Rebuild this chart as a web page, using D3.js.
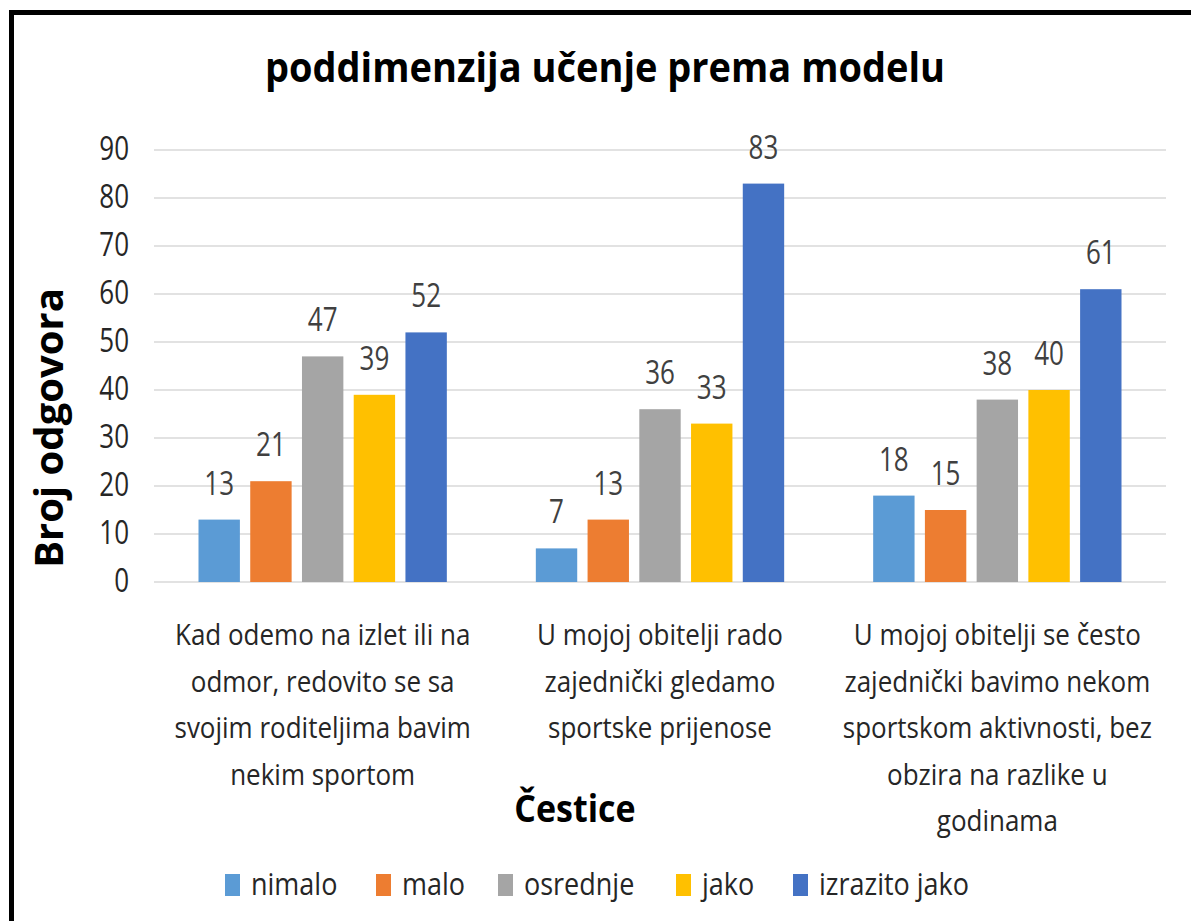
<!DOCTYPE html>
<html>
<head>
<meta charset="utf-8">
<script src="https://cdn.jsdelivr.net/npm/d3@7"></script>
<style>
  html, body { margin: 0; padding: 0; background: #fff; }
  svg { display: block; }
  text { font-family: "Open Sans", sans-serif; }
</style>
</head>
<body>
<svg id="chart" width="1191" height="921"></svg>
<script>
// ── Data ──────────────────────────────────────────────────────────────────────
const categories = [
  ["Kad odemo na izlet ili na", "odmor, redovito se sa", "svojim roditeljima bavim", "nekim sportom"],
  ["U mojoj obitelji rado", "zajednički gledamo", "sportske prijenose"],
  ["U mojoj obitelji se često", "zajednički bavimo nekom", "sportskom aktivnosti, bez", "obzira na razlike u", "godinama"],
];
const seriesNames = ["nimalo", "malo", "osrednje", "jako", "izrazito jako"];
const seriesColors = ["#5B9BD5", "#ED7D31", "#A5A5A5", "#FFC000", "#4472C4"];
const values = [
  [13, 21, 47, 39, 52],   // item 1
  [7, 13, 36, 33, 83],    // item 2
  [18, 15, 38, 40, 61],   // item 3
];
const yTicks = [0, 10, 20, 30, 40, 50, 60, 70, 80, 90];

const svg = d3.select("#chart");
const W = 1191, H = 921;
const plot = { left: 154, right: 1166, top: 150, bottom: 582 };

// the reference font is tall and narrow, so stretch glyphs vertically
const NUM_SY = 1.25, LBL_SY = 1.15;
const at = (x, y, sy) => `translate(${x},${y}) scale(1,${sy})`;

// frame (black edge at top and left)
svg.append("path")
  .attr("d", `M11.5,${H} V12.5 H${W}`)
  .attr("fill", "none")
  .attr("stroke", "#000")
  .attr("stroke-width", 5);

// ── Scales ────────────────────────────────────────────────────────────────────
const catIdx = d3.range(categories.length);
const x0 = d3.scaleBand().domain(catIdx).range([plot.left, plot.right]);
const groupPad = 44.5;
const x1 = d3.scaleBand().domain(d3.range(seriesNames.length))
  .range([groupPad, x0.bandwidth() - groupPad])
  .paddingInner(0.2);
const y = d3.scaleLinear().domain([0, 90]).range([plot.bottom, plot.top]);

// gridlines
svg.append("g")
  .selectAll("line")
  .data(yTicks)
  .join("line")
  .attr("x1", plot.left).attr("x2", plot.right)
  .attr("y1", d => y(d)).attr("y2", d => y(d))
  .attr("stroke", "#d9d9d9")
  .attr("stroke-width", 1.5);

// y tick labels
svg.append("g")
  .selectAll("text")
  .data(yTicks)
  .join("text")
  .attr("transform", d => at(129, y(d) + 10, NUM_SY))
  .attr("text-anchor", "end")
  .attr("font-size", 26)
  .attr("fill", "#262626")
  .text(d => d);

// bars
const groups = svg.append("g")
  .selectAll("g")
  .data(values)
  .join("g")
  .attr("transform", (_, i) => `translate(${x0(i)},0)`);

groups.selectAll("rect")
  .data(d => d)
  .join("rect")
  .attr("x", (_, j) => x1(j))
  .attr("y", v => y(v))
  .attr("width", x1.bandwidth())
  .attr("height", v => y(0) - y(v))
  .attr("fill", (_, j) => seriesColors[j]);

groups.selectAll("text")
  .data(d => d)
  .join("text")
  .attr("transform", (v, j) => at(x1(j) + x1.bandwidth() / 2, y(v) - 25, NUM_SY))
  .attr("text-anchor", "middle")
  .attr("font-size", 26)
  .attr("fill", "#404040")
  .text(v => v);

// category labels
const catLines = categories.flatMap((lines, i) =>
  lines.map((t, k) => ({ t, i, k })));
svg.append("g")
  .selectAll("text")
  .data(catLines)
  .join("text")
  .attr("transform", d => at(x0(d.i) + x0.bandwidth() / 2, 645 + d.k * 46.5, LBL_SY))
  .attr("text-anchor", "middle")
  .attr("font-size", 26)
  .attr("fill", "#262626")
  .text(d => d.t);

// title
svg.append("text")
  .attr("transform", at(605, 82, 1.1))
  .attr("text-anchor", "middle")
  .attr("font-weight", "bold")
  .attr("font-size", 38)
  .attr("fill", "#000")
  .text("poddimenzija učenje prema modelu");

// y axis title
svg.append("text")
  .attr("transform", "translate(63,428) rotate(-90)")
  .attr("text-anchor", "middle")
  .attr("font-weight", "bold")
  .attr("font-size", 40)
  .attr("fill", "#000")
  .text("Broj odgovora");

// x axis title
svg.append("text")
  .attr("transform", at(575, 822, 1.12))
  .attr("text-anchor", "middle")
  .attr("font-weight", "bold")
  .attr("font-size", 34)
  .attr("fill", "#000")
  .text("Čestice");

// legend
const legendX = [225, 376, 498, 676, 793];
const legend = svg.append("g")
  .selectAll("g")
  .data(seriesNames)
  .join("g")
  .attr("transform", (_, i) => `translate(${legendX[i]},874)`);
legend.append("rect")
  .attr("width", 15).attr("height", 22)
  .attr("fill", (_, i) => seriesColors[i]);
legend.append("text")
  .attr("transform", at(26, 21, LBL_SY))
  .attr("font-size", 27)
  .attr("fill", "#262626")
  .text(d => d);
</script>
</body>
</html>
